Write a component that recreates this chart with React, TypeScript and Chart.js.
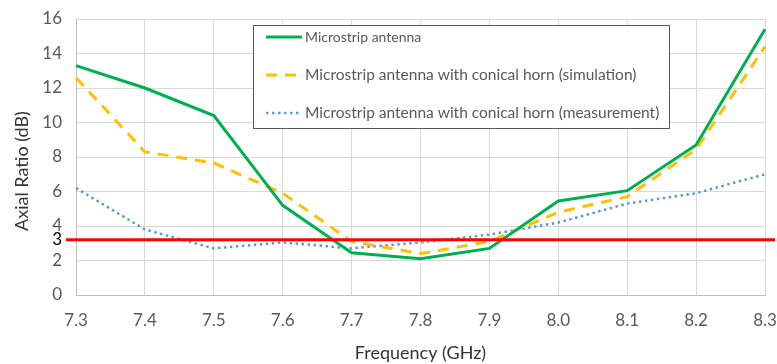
import { useEffect, useRef } from 'react';
import { Chart, registerables } from 'chart.js';

Chart.register(...registerables);

const categories = ['7.3', '7.4', '7.5', '7.6', '7.7', '7.8', '7.9', '8.0', '8.1', '8.2', '8.3'];
const microstrip = [13.3, 12.0, 10.4, 5.2, 2.45, 2.1, 2.7, 5.45, 6.05, 8.7, 15.4];
const hornSimulation = [12.6, 8.3, 7.65, 5.9, 3.1, 2.4, 3.1, 4.8, 5.7, 8.45, 14.4];
const hornMeasurement = [6.2, 3.8, 2.7, 3.05, 2.7, 3.05, 3.5, 4.2, 5.3, 5.9, 7.0];
const yTicks = [0, 2, 4, 6, 8, 10, 12, 14, 16];
const refLevel = 3.2;
const refLabel = '3';
const seriesNames = [
  'Microstrip antenna',
  'Microstrip antenna with conical horn (simulation)',
  'Microstrip antenna with conical horn (measurement)',
];
const yTitle = 'Axial Ratio (dB)';
const xTitle = 'Frequency (GHz)';

const FONT = 'Lato, "Open Sans", sans-serif';

const overlay = {
  id: 'overlay',
  afterDatasetsDraw(chart: any) {
    const { ctx, chartArea, scales } = chart;
    const y = scales.y.getPixelForValue(refLevel);
    ctx.save();
    ctx.strokeStyle = '#ff0000';
    ctx.lineWidth = 3;
    ctx.beginPath();
    ctx.moveTo(chartArea.left - 10, y);
    ctx.lineTo(chartArea.right + 10, y);
    ctx.stroke();

    // legend box
    const lx = chartArea.left + 177;
    const ly = chartArea.top + 6;
    const w = 416;
    const h = 103;
    ctx.fillStyle = '#ffffff';
    ctx.fillRect(lx, ly, w, h);
    ctx.strokeStyle = '#595959';
    ctx.lineWidth = 1;
    ctx.strokeRect(Math.round(lx) + 0.5, Math.round(ly) + 0.5, w, h);
    const rowsY = [12, 50, 88];
    const sizes = [14, 15.5, 15.5];
    chart.data.datasets.forEach((ds: any, i: number) => {
      const ry = ly + rowsY[i];
      ctx.save();
      ctx.strokeStyle = ds.borderColor;
      ctx.lineWidth = ds.borderWidth;
      ctx.setLineDash(ds.borderDash || []);
      ctx.beginPath();
      ctx.moveTo(lx + 13, ry);
      ctx.lineTo(lx + 49, ry);
      ctx.stroke();
      ctx.restore();
      ctx.fillStyle = '#595959';
      ctx.font = `${sizes[i]}px ${FONT}`;
      ctx.textBaseline = 'middle';
      ctx.textAlign = 'left';
      ctx.fillText(ds.label, lx + 52, ry);
    });

    // y axis title
    ctx.save();
    ctx.translate(22, (chartArea.top + chartArea.bottom) / 2 + 14);
    ctx.rotate(-Math.PI / 2);
    ctx.fillStyle = '#333333';
    ctx.font = `18px ${FONT}`;
    ctx.textAlign = 'center';
    ctx.textBaseline = 'middle';
    ctx.fillText(yTitle, 0, 0);
    ctx.restore();

    ctx.restore();
  },
};

export default function App() {
  const ref = useRef<HTMLCanvasElement>(null);
  useEffect(() => {
    document.body.style.margin = '0';
    const chart = new Chart(ref.current!, {
      type: 'line',
      data: {
        labels: categories,
        datasets: [
          {
            label: seriesNames[0],
            data: microstrip,
            borderColor: '#00b050',
            borderWidth: 3,
            pointRadius: 0,
            tension: 0,
          },
          {
            label: seriesNames[1],
            data: hornSimulation,
            borderColor: '#ffc000',
            borderWidth: 3,
            borderDash: [11, 8],
            pointRadius: 0,
            tension: 0,
          },
          {
            label: seriesNames[2],
            data: hornMeasurement,
            borderColor: '#5b9bd5',
            borderWidth: 2.5,
            borderDash: [2.5, 3.5],
            pointRadius: 0,
            tension: 0,
          },
        ],
      },
      options: {
        animation: false,
        responsive: true,
        maintainAspectRatio: false,
        layout: { padding: { top: 19, right: 12, bottom: 0, left: 0 } },
        plugins: {
          legend: { display: false },
          tooltip: { enabled: false },
        },
        scales: {
          x: {
            offset: false,
            grid: { color: '#d9d9d9', drawTicks: false },
            border: { color: '#bfbfbf' },
            ticks: {
              color: '#595959',
              font: { family: FONT, size: 17 },
              padding: 15,
              autoSkip: false,
              maxRotation: 0,
            },
            title: {
              display: true,
              text: xTitle,
              color: '#333333',
              font: { family: FONT, size: 18 },
              padding: { top: 0, bottom: 0 },
            },
            afterFit: (s: any) => {
              s.height = 69;
              s.paddingLeft = 0;
              s.paddingRight = 0;
            },
          },
          y: {
            min: 0,
            max: 16,
            afterBuildTicks: (s: any) => {
              const vals = [...yTicks, refLevel].sort((a, b) => a - b);
              s.ticks = vals.map((v) => ({ value: v }));
            },
            grid: {
              color: (c: any) => (c.tick && c.tick.value === refLevel ? 'rgba(0,0,0,0)' : '#d9d9d9'),
              drawTicks: false,
            },
            border: { color: '#bfbfbf' },
            ticks: {
              color: (c: any) => (c.tick && c.tick.value === refLevel ? '#000000' : '#595959'),
              font: { family: FONT, size: 17 },
              padding: 14,
              callback: (v: any) => (v === refLevel ? refLabel : String(v)),
            },
            afterFit: (s: any) => {
              s.width = 76;
              s.paddingTop = 0;
              s.paddingBottom = 0;
            },
          },
        },
      },
      plugins: [overlay],
    });
    return () => chart.destroy();
  }, []);
  return (
    <div style={{ width: 777, height: 364, position: 'relative' }}>
      <canvas ref={ref} />
    </div>
  );
}
